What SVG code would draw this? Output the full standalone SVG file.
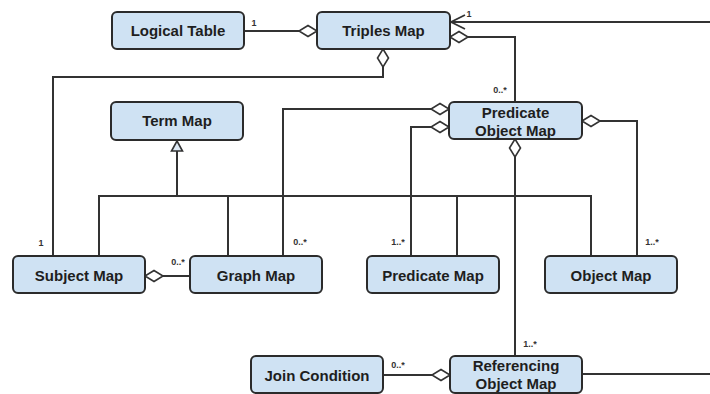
<svg xmlns="http://www.w3.org/2000/svg" width="710" height="394" viewBox="0 0 710 394">
  <style>
    .box { fill: #cfe2f3; stroke: #2b2b2b; stroke-width: 2; }
    .name { font-family: "Liberation Sans", Arial, sans-serif; font-weight: bold; font-size: 15px; fill: #1e1e1e; text-anchor: middle; }
    .line { fill: none; stroke: #333; stroke-width: 2; }
    .mult { font-family: "Liberation Sans", Arial, sans-serif; font-weight: bold; font-size: 9px; fill: #333; text-anchor: middle; }
  </style>
  <defs>
    <marker id="diamond" viewBox="0 0 18 11" refX="0" refY="5.5" markerWidth="18" markerHeight="11" markerUnits="userSpaceOnUse" orient="auto" overflow="visible">
      <path d="M0,5.5 L9,0 L18,5.5 L9,11 Z" fill="#fff" stroke="#333" stroke-width="1.6"/>
    </marker>
    <marker id="open-arrow" viewBox="-15 -8 16 16" refX="0" refY="0" markerWidth="16" markerHeight="16" markerUnits="userSpaceOnUse" orient="auto" overflow="visible">
      <path d="M-14,-7 L0,0 L-14,7" fill="none" stroke="#333" stroke-width="1.8"/>
    </marker>
    <marker id="hollow-triangle" viewBox="-11 -6 12 12" refX="0" refY="0" markerWidth="12" markerHeight="12" markerUnits="userSpaceOnUse" orient="auto" overflow="visible">
      <path d="M0,0 L-10,-5.5 L-10,5.5 Z" fill="#dde9f5" stroke="#333" stroke-width="1.6"/>
    </marker>
  </defs>

  <rect width="710" height="394" fill="#fff"/>

  <g id="connectors">
    <!-- Logical Table to Triples Map -->
    <path class="line" d="M317,31 L244,31" marker-start="url(#diamond)"/>
    <!-- incoming reference from the right edge -->
    <path class="line" d="M710,22 L451,22" marker-end="url(#open-arrow)"/>
    <!-- Triples Map to Predicate Object Map -->
    <path class="line" d="M450,37 L515,37 L515,102" marker-start="url(#diamond)"/>
    <!-- Triples Map to Subject Map -->
    <path class="line" d="M383,49 L383,77 L53,77 L53,256" marker-start="url(#diamond)"/>
    <!-- generalization to Term Map -->
    <path class="line" d="M177,196 L177,141" marker-end="url(#hollow-triangle)"/>
    <path class="line" d="M99,256 L99,196 L591,196 L591,256"/>
    <path class="line" d="M228,196 L228,256"/>
    <path class="line" d="M457,196 L457,256"/>
    <!-- Predicate Object Map to Graph Map -->
    <path class="line" d="M449,109 L283,109 L283,256" marker-start="url(#diamond)"/>
    <!-- Predicate Object Map to Predicate Map -->
    <path class="line" d="M449,127 L411,127 L411,256" marker-start="url(#diamond)"/>
    <!-- Predicate Object Map to Object Map -->
    <path class="line" d="M582,121 L637,121 L637,256" marker-start="url(#diamond)"/>
    <!-- Predicate Object Map to Referencing Object Map -->
    <path class="line" d="M515,139 L515,355" marker-start="url(#diamond)"/>
    <!-- Subject Map to Graph Map -->
    <path class="line" d="M145,276 L190,276" marker-start="url(#diamond)"/>
    <!-- Referencing Object Map to Join Condition -->
    <path class="line" d="M450,375 L383,375" marker-start="url(#diamond)"/>
    <!-- Referencing Object Map to the right edge -->
    <path class="line" d="M582,374 L710,374"/>

    <text class="mult" x="254" y="26">1</text>
    <text class="mult" x="469" y="17">1</text>
    <text class="mult" x="500" y="93">0..*</text>
    <text class="mult" x="41" y="246">1</text>
    <text class="mult" x="178" y="265">0..*</text>
    <text class="mult" x="300" y="245">0..*</text>
    <text class="mult" x="398" y="245">1..*</text>
    <text class="mult" x="652" y="245">1..*</text>
    <text class="mult" x="530" y="347">1..*</text>
    <text class="mult" x="398" y="368">0..*</text>
  </g>

  <g id="logical-table">
    <rect class="box" x="112" y="12" width="132" height="37" rx="5"/>
    <text class="name" x="178" y="36">Logical Table</text>
  </g>
  <g id="triples-map">
    <rect class="box" x="317" y="12" width="133" height="37" rx="5"/>
    <text class="name" x="383.5" y="36">Triples Map</text>
  </g>
  <g id="term-map">
    <rect class="box" x="111" y="102" width="132" height="38" rx="5"/>
    <text class="name" x="177" y="126">Term Map</text>
  </g>
  <g id="predicate-object-map">
    <rect class="box" x="449" y="102" width="133" height="37" rx="5"/>
    <text class="name" x="515.5" y="118">Predicate</text>
    <text class="name" x="515.5" y="136">Object Map</text>
  </g>
  <g id="subject-map">
    <rect class="box" x="13" y="256" width="132" height="37" rx="5"/>
    <text class="name" x="79" y="281">Subject Map</text>
  </g>
  <g id="graph-map">
    <rect class="box" x="190" y="256" width="132" height="37" rx="5"/>
    <text class="name" x="256" y="281">Graph Map</text>
  </g>
  <g id="predicate-map">
    <rect class="box" x="367" y="256" width="132" height="37" rx="5"/>
    <text class="name" x="433" y="281">Predicate Map</text>
  </g>
  <g id="object-map">
    <rect class="box" x="545" y="256" width="132" height="37" rx="5"/>
    <text class="name" x="611" y="281">Object Map</text>
  </g>
  <g id="join-condition">
    <rect class="box" x="251" y="356" width="132" height="37" rx="5"/>
    <text class="name" x="317" y="381">Join Condition</text>
  </g>
  <g id="referencing-object-map">
    <rect class="box" x="450" y="356" width="132" height="37" rx="5"/>
    <text class="name" x="516" y="371">Referencing</text>
    <text class="name" x="516" y="389">Object Map</text>
  </g>
</svg>
